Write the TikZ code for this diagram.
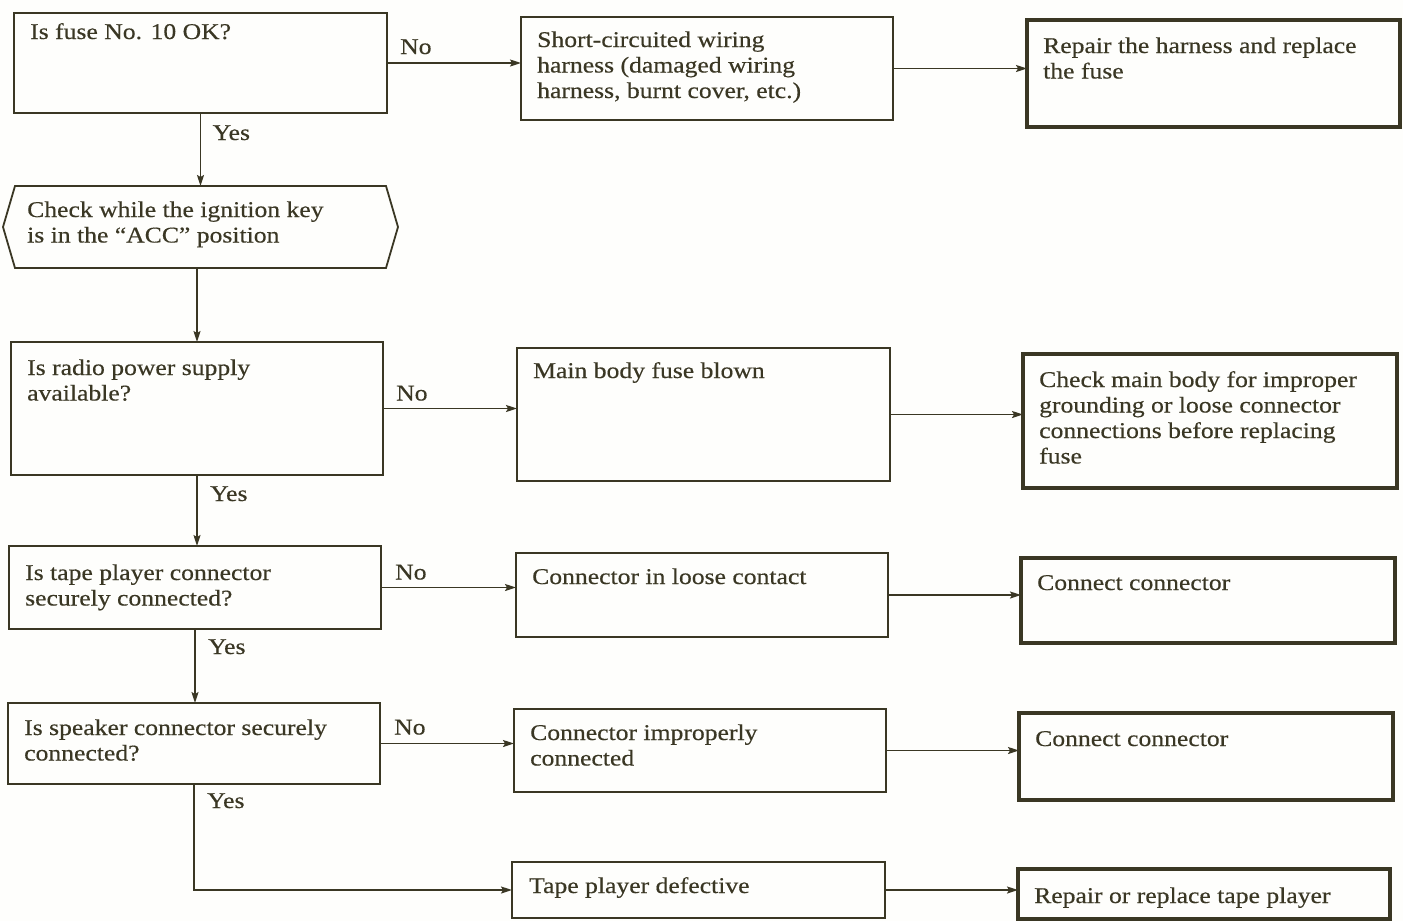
\documentclass[tikz,border=0pt]{standalone}
\usepackage{fontspec}
\setmainfont{Liberation Serif}[FakeStretch=1.14,FakeBold=0.4]
\usetikzlibrary{arrows.meta,calc}
\definecolor{ink}{RGB}{58,55,36}
\definecolor{paper}{RGB}{254,254,252}
\newcommand{\chartfont}{\fontsize{22.5}{25.5}\selectfont}
\newcommand{\rows}[1]{\begin{tabular}[t]{@{}l@{}}#1\end{tabular}}

\begin{document}
\begin{tikzpicture}[x=1pt,y=-1pt,
  every node/.style={text=ink},
  frame/.style={draw=ink, line width=1.8pt, inner sep=0pt, outer sep=0pt, anchor=north west},
  action/.style={draw=ink, line width=3.4pt, inner sep=0pt, outer sep=0pt, anchor=north west},
  caption/.style={anchor=base west, inner sep=0pt, font=\chartfont},
  tag/.style={anchor=base west, inner sep=0pt, font=\chartfont},
  flow/.style={draw=ink, line width=1.5pt, -{Stealth[length=11pt,width=7pt,inset=2pt]}},
]
\fill[paper] (0,0) rectangle (1403,921);
\useasboundingbox (0,0) rectangle (1403,921);

% ---- left column: questions ----
\node[frame, minimum width=373pt, minimum height=100pt] (b1) at (14,13) {};
\node[caption] (b1-t) at (30,39) {Is fuse No. 10 OK?};

\node[inner sep=0pt, outer sep=0pt, anchor=north west, minimum width=371pt, minimum height=82pt] (hex) at (15,186) {};
\draw[ink, line width=1.8pt] (hex.north west) -- (hex.north east) -- ($(hex.east)+(12,0)$)
  -- (hex.south east) -- (hex.south west) -- ($(hex.west)+(-12,0)$) -- cycle;
\node[caption] (hex-t) at (27,217) {\rows{Check while the ignition key\\is in the ``ACC'' position}};

\node[frame, minimum width=372pt, minimum height=133pt] (b3) at (11,342) {};
\node[caption] (b3-t) at (27,375) {\rows{Is radio power supply\\available?}};

\node[frame, minimum width=372pt, minimum height=83pt] (b4) at (9,546) {};
\node[caption] (b4-t) at (25,580) {\rows{Is tape player connector\\securely connected?}};

\node[frame, minimum width=372pt, minimum height=81pt] (b5) at (8,703) {};
\node[caption] (b5-t) at (24,735) {\rows{Is speaker connector securely\\connected?}};

% ---- middle column: causes ----
\node[frame, minimum width=372pt, minimum height=103pt] (c1) at (521,17) {};
\node[caption] (c1-t) at (537,47) {\rows{Short-circuited wiring\\harness (damaged wiring\\harness, burnt cover, etc.)}};

\node[frame, minimum width=373pt, minimum height=133pt] (c2) at (517,348) {};
\node[caption] (c2-t) at (533,378) {Main body fuse blown};

\node[frame, minimum width=372pt, minimum height=84pt] (c3) at (516,553) {};
\node[caption] (c3-t) at (532,584) {Connector in loose contact};

\node[frame, minimum width=372pt, minimum height=83pt] (c4) at (514,709) {};
\node[caption] (c4-t) at (530,740) {\rows{Connector improperly\\connected}};

\node[frame, minimum width=373pt, minimum height=56pt] (c5) at (512,862) {};
\node[caption] (c5-t) at (529,893) {Tape player defective};

% ---- right column: remedies ----
\node[action, minimum width=373pt, minimum height=107pt] (d1) at (1027,20) {};
\node[caption] (d1-t) at (1043,53) {\rows{Repair the harness and replace\\the fuse}};

\node[action, minimum width=374pt, minimum height=134pt] (d2) at (1023,354) {};
\node[caption] (d2-t) at (1039,387) {\rows{Check main body for improper\\grounding or loose connector\\connections before replacing\\fuse}};

\node[action, minimum width=374pt, minimum height=85pt] (d3) at (1021,558) {};
\node[caption] (d3-t) at (1037,590) {Connect connector};

\node[action, minimum width=374pt, minimum height=87pt] (d4) at (1019,713) {};
\node[caption] (d4-t) at (1035,746) {Connect connector};

\node[action, minimum width=372pt, minimum height=50pt] (d5) at (1018,869) {};
\node[caption] (d5-t) at (1034,903) {Repair or replace tape player};

% ---- "Yes" path down the left column ----
\draw[flow] (b1.south) -- (hex.north);
\draw[flow] (hex.south -| b3.north) -- (b3.north);
\draw[flow] (b3.south) -- (b3.south |- b4.north);
\draw[flow] (b4.south) -- (b4.south |- b5.north);
\draw[flow] (b5.south) |- (c5.west);
\node[tag] (y1) at ($(b1.south)+(12,27)$) {Yes};
\node[tag] (y3) at ($(b3.south)+(13,26)$) {Yes};
\node[tag] (y4) at ($(b4.south)+(13,25)$) {Yes};
\node[tag] (y5) at ($(b5.south)+(13,24)$) {Yes};

% ---- "No" branches ----
\draw[flow] (b1.east) -- (b1.east -| c1.west);
\draw[flow] (b3.east) -- (b3.east -| c2.west);
\draw[flow] (b4.east) -- (b4.east -| c3.west);
\draw[flow] (b5.east) -- (b5.east -| c4.west);
\node[tag] (n1) at ($(b1.east)+(13,-9)$) {No};
\node[tag] (n3) at ($(b3.east)+(13,-8)$) {No};
\node[tag] (n4) at ($(b4.east)+(14,-8)$) {No};
\node[tag] (n5) at ($(b5.east)+(14,-9)$) {No};

% ---- cause to remedy ----
\draw[flow] (c1.east) -- (c1.east -| d1.west);
\draw[flow] (c2.east) -- (c2.east -| d2.west);
\draw[flow] (c3.east) -- (c3.east -| d3.west);
\draw[flow] (c4.east) -- (c4.east -| d4.west);
\draw[flow] (c5.east) -- (c5.east -| d5.west);
\end{tikzpicture}
\end{document}
